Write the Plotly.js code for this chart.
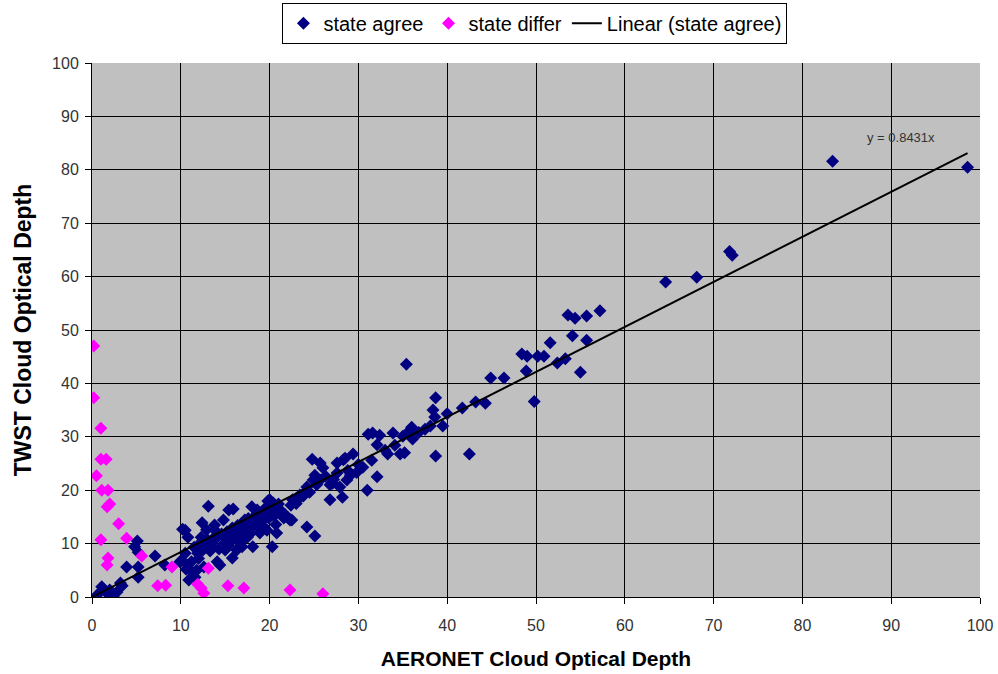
<!DOCTYPE html>
<html>
<head>
<meta charset="utf-8">
<script src="https://cdn.plot.ly/plotly-3.0.1.min.js"></script>
<style>html,body{margin:0;padding:0;background:#fff;}#chart{width:998px;height:674px;}</style>
</head>
<body>
<div id="chart"></div>
<script>
// state agree points
const agreeX = [98.6,83.4,72.1,71.8,68.1,64.6,57.2,55.7,54.4,53.6,55.7,54.1,51.6,48.4,49.0,50.2,50.9,53.3,52.4,48.9,55.0,44.9,46.4,49.8,
35.4,38.7,38.4,38.6,40.0,39.5,41.7,43.2,44.3,38.1,38.7,42.5,36.0,35.6,35.0,36.1,33.9,32.4,31.1,31.6,32.1,33.3,34.7,35.2,30.5,32.1,31.0,
29.4,28.3,27.6,24.8,25.7,28.7,29.1,24.9,25.7,27.1,27.9,24.2,25.3,28.5,26.0,27.6,25.1,26.8,24.2,28.2,26.8,23.4,22.6,20.0,20.8,19.7,22.0,
22.5,24.2,25.1,20.8,20.3,13.1,15.4,15.9,14.8,12.4,10.2,10.8,18.0,18.6,19.8,20.4,21.2,21.7,22.3,18.1,15.8,11.9,12.5,13.5,14.1,14.4,10.8,
11.3,11.6,10.1,10.5,13.0,12.2,16.3,17.5,16.9,18.9,19.7,15.0,16.3,13.6,18.1,17.2,18.9,5.1,4.8,5.2,7.1,3.9,5.2,8.2,5.2,9.9,3.2,1.1,0.6,
1.7,2.4,2.0,2.8,3.4,10.5,
14.0,14.6,15.2,15.8,16.4,17.0,17.6,18.3,19.0,19.5,20.2,21.0,15.0,15.6,16.2,16.8,17.4,18.0,18.6,19.2,19.9,20.5,21.3,22.4,23.2,23.8,24.5,
23.0,12.8,13.3,12.0,11.2,10.6,11.5,12.3,13.9,14.3,15.4,16.7,17.8,19.4,20.7,21.6,26.3,27.2,28.8,30.0,29.8,31.5,33.0,34.1,36.8,37.5,
12.6,11.8,10.9,12.9,13.8];
const agreeY = [80.5,81.6,64.0,64.7,59.9,59.0,53.6,52.6,52.2,52.8,48.1,48.9,47.6,45.5,45.1,45.1,45.1,44.6,43.8,42.3,42.1,41.0,41.0,36.6,
43.6,37.3,35.0,33.7,34.3,32.0,35.4,36.5,36.3,32.0,26.4,26.8,31.8,30.9,30.1,29.6,30.7,30.3,30.5,30.7,28.5,26.8,26.8,27.0,24.3,22.5,20.0,
26.8,25.7,25.1,25.8,25.1,21.9,22.8,21.9,21.9,21.3,20.6,20.0,21.0,26.0,24.2,23.2,22.8,21.0,20.6,18.7,18.2,19.1,18.2,18.2,16.3,15.7,15.0,
14.4,13.1,11.4,12.0,9.4,17.0,16.3,16.5,14.4,13.9,12.7,11.2,16.9,16.3,18.0,17.6,16.3,15.5,14.4,9.4,7.3,8.2,8.8,10.7,6.6,6.0,6.0,
4.7,3.7,6.9,8.2,10.7,10.1,10.7,11.2,9.4,12.0,12.5,8.8,8.8,9.4,13.1,14.4,14.0,10.5,9.4,8.4,7.7,5.6,5.6,6.0,3.7,6.6,2.6,1.9,0.4,
0.7,0.0,1.3,0.9,2.1,12.5,
11.0,11.8,12.2,12.9,13.4,13.8,14.7,15.1,15.6,16.6,16.8,17.4,10.2,10.9,11.6,12.1,12.7,13.0,13.6,14.3,14.8,15.2,16.0,17.2,18.3,18.9,19.6,
17.5,9.8,8.6,7.2,6.6,5.2,9.3,11.2,12.4,9.0,9.7,10.3,11.8,13.0,13.6,14.8,22.6,22.0,23.7,24.8,23.3,25.6,27.5,28.4,30.8,31.4,
5.6,5.0,3.2,12.6,13.5];

// state differ points
const differX = [0.2,0.2,1.0,1.0,1.6,0.5,1.1,1.8,1.7,2.0,3.0,3.9,1.0,1.8,1.7,5.6,7.4,8.3,9.0,11.9,12.3,12.6,13.1,15.3,17.1,22.3,26.0];
const differY = [47.0,37.3,31.6,25.8,25.8,22.7,20.0,20.0,16.9,17.4,13.7,11.0,10.7,7.3,6.0,7.7,2.1,2.2,5.6,2.4,1.7,0.7,5.4,2.1,1.7,1.3,0.6];

// linear trendline (through origin) for state agree
const trendSlope = 0.8431;
const trendX = [0, 98.6];
const trendY = trendX.map(v => trendSlope * v);

const xTicks = [0,10,20,30,40,50,60,70,80,90,100];
const yTicks = [0,10,20,30,40,50,60,70,80,90,100];

const traces = [
  {x: agreeX, y: agreeY, type: 'scatter', mode: 'markers', name: 'state agree',
   marker: {symbol: 'diamond', size: 10, color: '#000080'}},
  {x: differX, y: differY, type: 'scatter', mode: 'markers', name: 'state differ',
   marker: {symbol: 'diamond', size: 10, color: '#ff00ff'}},
  {x: trendX, y: trendY, type: 'scatter', mode: 'lines', name: 'Linear (state agree)',
   line: {color: '#000000', width: 2}}
];

const fam = 'Liberation Sans, Arial, sans-serif';
const axisFont = {family: fam, size: 16, color: '#333333'};

const layout = {
  width: 998, height: 674,
  paper_bgcolor: '#ffffff', plot_bgcolor: '#c0c0c0',
  margin: {l: 92, r: 18, t: 63, b: 77},
  showlegend: true,
  legend: {
    orientation: 'h', xref: 'container', yref: 'container',
    x: 0.536, xanchor: 'center', y: 0.996, yanchor: 'top',
    bordercolor: '#000000', borderwidth: 1, bgcolor: '#ffffff',
    font: {family: fam, size: 20, color: '#000000'},
    itemwidth: 30, tracegroupgap: 0
  },
  xaxis: {
    range: [0, 100], tickvals: xTicks, ticktext: xTicks.map(String),
    showgrid: true, gridcolor: '#000000', gridwidth: 1,
    showline: true, linecolor: '#000000', linewidth: 1, mirror: false,
    ticks: 'outside', ticklen: 6, tickcolor: '#000000', ticklabelstandoff: 8,
    tickfont: axisFont, zeroline: false,
    title: {text: 'AERONET Cloud Optical Depth', font: {family: fam, size: 21, color: '#000000', weight: 'bold'}, standoff: 18}
  },
  yaxis: {
    range: [0, 100], tickvals: yTicks, ticktext: yTicks.map(String),
    showgrid: true, gridcolor: '#000000', gridwidth: 1,
    showline: true, linecolor: '#000000', linewidth: 1, mirror: false,
    ticks: 'outside', ticklen: 6, tickcolor: '#000000', ticklabelstandoff: 3,
    tickfont: axisFont, zeroline: false,
    title: {text: 'TWST Cloud Optical Depth', font: {family: fam, size: 23, color: '#000000', weight: 'bold'}, standoff: 14}
  },
  annotations: [
    {x: 91.1, y: 86.0, xref: 'x', yref: 'y', text: 'y = 0.8431x', showarrow: false,
     font: {family: fam, size: 13, color: '#333333'}}
  ]
};

Plotly.newPlot('chart', traces, layout, {displayModeBar: false, staticPlot: true});
</script>
</body>
</html>
